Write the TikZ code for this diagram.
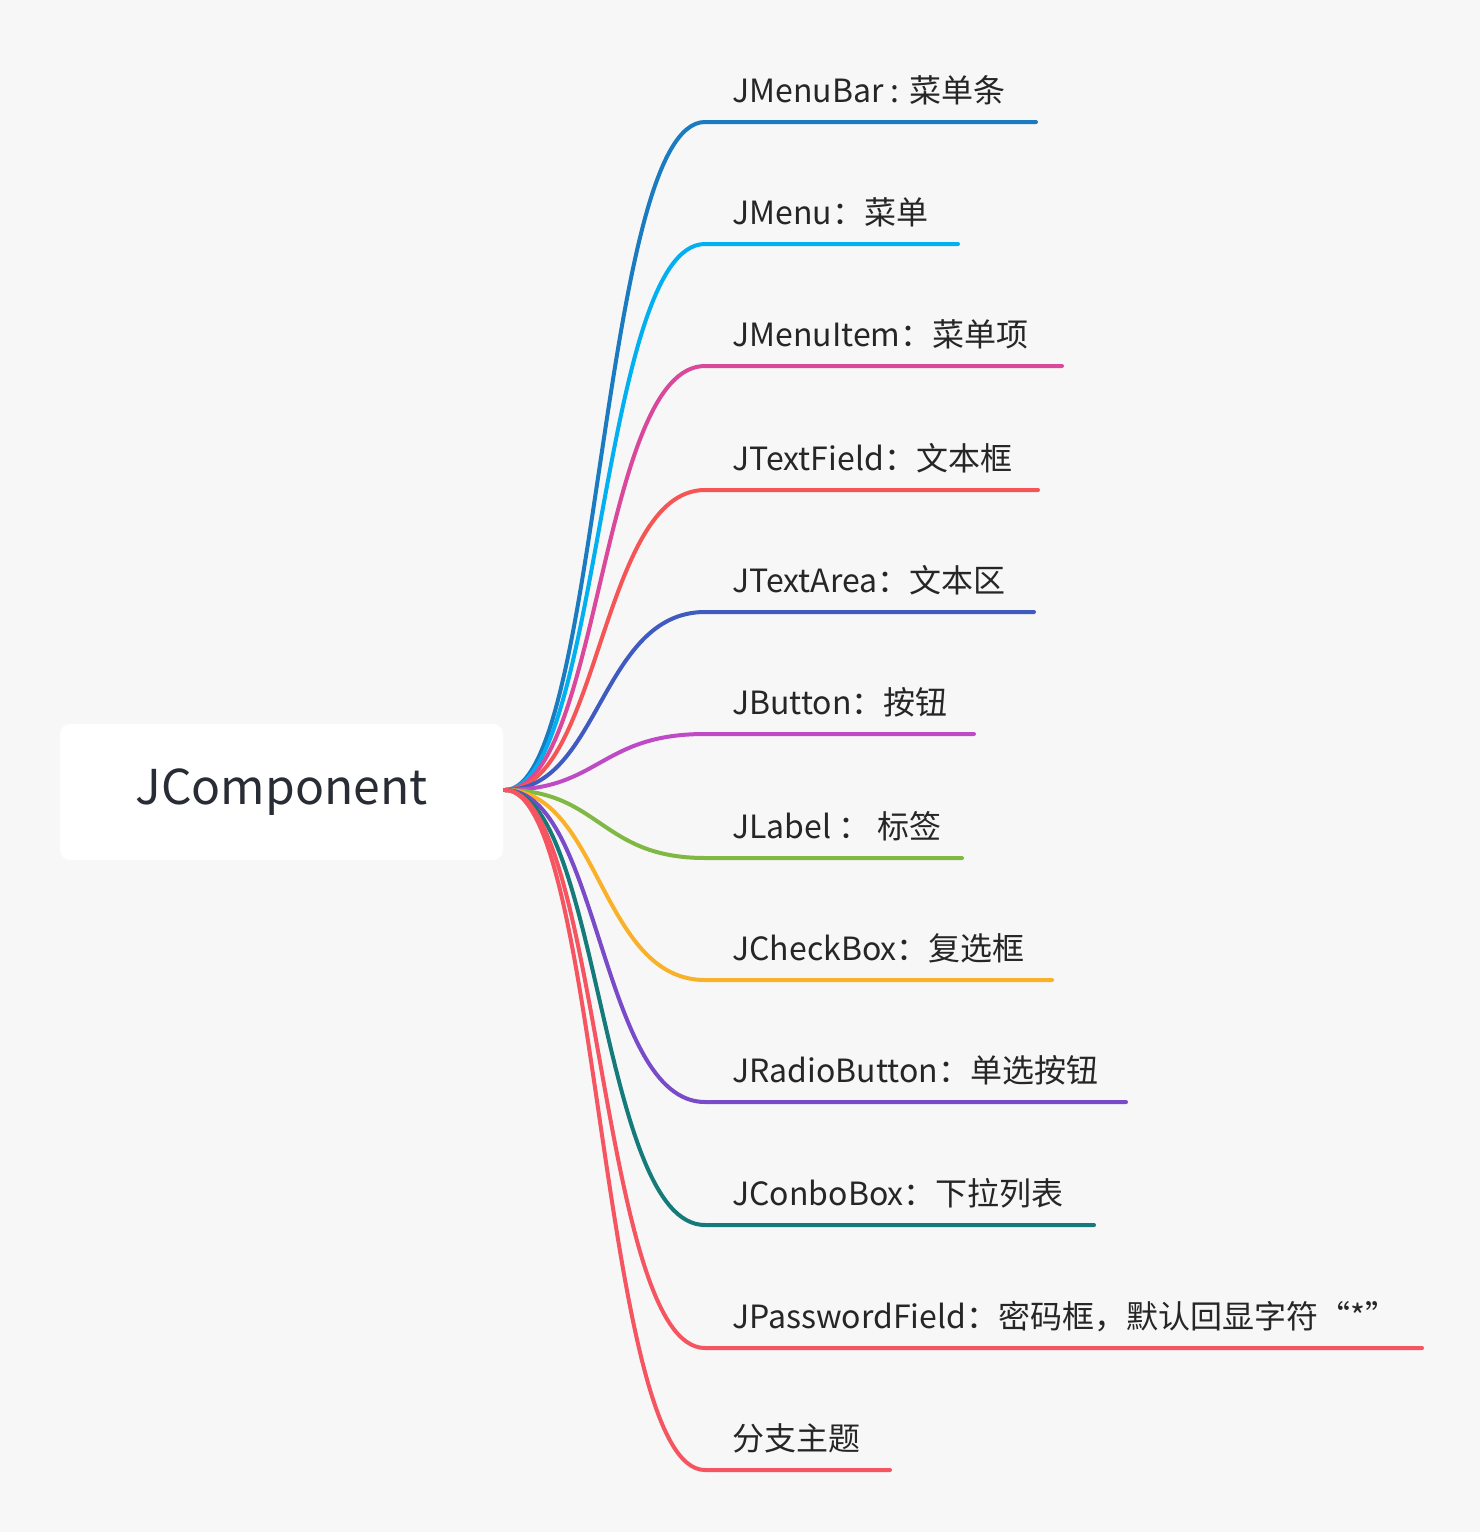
\documentclass[tikz,border=0pt]{standalone}
\usepackage{fontspec}
\setmainfont{Noto Sans CJK SC}
\begin{document}
\begin{tikzpicture}[x=0.5pt,y=-0.5pt,
  lbl/.style={anchor=base west,inner sep=0pt,font=\fontsize{16}{18}\selectfont,text=black!85},
  br/.style={line width=2pt,line cap=round}]
\fill[fill={rgb,255:red,247;green,247;blue,247}] (0,0) rectangle (1480,1532);
\useasboundingbox (0,0) rectangle (1480,1532);
\node[fill=white,rounded corners=5pt,minimum width=221.5pt,minimum height=68pt,inner sep=0pt,
  font=\fontsize{24}{28}\selectfont,text={rgb,255:red,40;green,44;blue,52}] (root) at (281.5,792) {JComponent};
\coordinate (s) at (505,790);
\foreach \y/\ex/\c/\t [count=\i] in {
 122/1036/{26,123,192}/{JMenuBar : 菜单条},
 244/958/{0,176,240}/{JMenu：菜单},
 366/1062/{217,72,154}/{JMenuItem：菜单项},
 490/1038/{245,85,85}/{JTextField：文本框},
 612/1034/{63,91,192}/{JTextArea：文本区},
 734/974/{190,75,197}/{JButton：按钮},
 858/962/{127,184,66}/{JLabel ： 标签},
 980/1052/{249,177,42}/{JCheckBox：复选框},
 1102/1126/{122,75,200}/{JRadioButton：单选按钮},
 1225/1094/{21,122,122}/{JConboBox：下拉列表},
 1348/1422/{245,85,96}/{JPasswordField：密码框，默认回显字符“*”},
 1470/890/{245,85,96}/{分支主题}}{
  \definecolor{bc\i}{RGB}{\c}
  \coordinate (k\i) at (705,\y);
  \coordinate (e\i) at (\ex,\y);
  \draw[br,color=bc\i] (s) .. controls (600,790) and (600,\y) .. (k\i) -- (e\i);
  \node[lbl] (t\i) at (732,\y-20) {\t};
}
\end{tikzpicture}
\end{document}
